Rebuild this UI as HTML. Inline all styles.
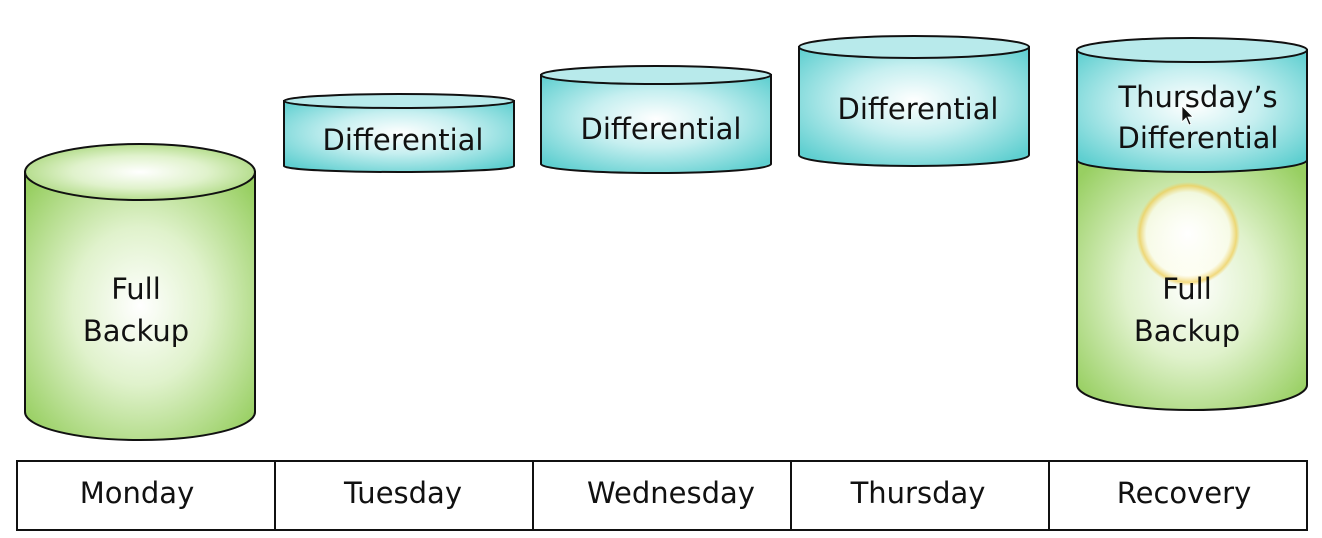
<!DOCTYPE html>
<html><head><meta charset="utf-8"><style>
html,body{margin:0;padding:0;background:#fff;}
svg{display:block;}
text{font-family:"DejaVu Sans","Liberation Sans",sans-serif;font-size:29px;fill:#111;}
</style></head><body>
<svg width="1322" height="538" viewBox="0 0 1322 538" xmlns="http://www.w3.org/2000/svg">
<defs>
<radialGradient id="tg" cx="0.5" cy="0.45" r="0.65">
<stop offset="0" stop-color="#ffffff"/><stop offset="0.45" stop-color="#c6eff0"/><stop offset="1" stop-color="#5fcfd0"/>
</radialGradient>
<radialGradient id="gg" cx="0.5" cy="0.5" r="0.65">
<stop offset="0" stop-color="#ffffff"/><stop offset="0.45" stop-color="#e0f2cc"/><stop offset="1" stop-color="#98cf62"/>
</radialGradient>
<radialGradient id="glow" cx="0.5" cy="0.5" r="0.5">
<stop offset="0" stop-color="#ffffff" stop-opacity="1"/><stop offset="0.8" stop-color="#fffef0" stop-opacity="0.7"/><stop offset="0.93" stop-color="#f0d060" stop-opacity="0.8"/><stop offset="1" stop-color="#f0d060" stop-opacity="0"/>
</radialGradient>
</defs>
<g stroke="#111" stroke-width="2">
<path d="M25,172 L25,412 A115,28 0 0 0 255,412 L255,172 Z" fill="url(#gg)"/>
<ellipse cx="140" cy="172" rx="115" ry="28" fill="url(#gg)"/>
<path d="M284,101 L284,166 A115,6 0 0 0 514,166 L514,101 Z" fill="url(#tg)"/>
<ellipse cx="399" cy="101" rx="115" ry="7" fill="#b8eaeb"/>
<path d="M541,75 L541,164 A115,9 0 0 0 771,164 L771,75 Z" fill="url(#tg)"/>
<ellipse cx="656" cy="75" rx="115" ry="9" fill="#b8eaeb"/>
<path d="M799,47 L799,155 A115,11 0 0 0 1029,155 L1029,47 Z" fill="url(#tg)"/>
<ellipse cx="914" cy="47" rx="115" ry="11" fill="#b8eaeb"/>
<path d="M1077,160 L1077,385 A115,25 0 0 0 1307,385 L1307,160 Z" fill="url(#gg)"/>
<path d="M1077,50 L1077,160 A115,12 0 0 0 1307,160 L1307,50 Z" fill="url(#tg)"/>
<ellipse cx="1192" cy="50" rx="115" ry="12" fill="#b8eaeb"/>
</g>
<circle cx="1188" cy="234" r="52" fill="url(#glow)"/>
<text x="136" y="299" text-anchor="middle">Full</text>
<text x="136" y="341" text-anchor="middle">Backup</text>
<text x="403" y="150" text-anchor="middle">Differential</text>
<text x="661" y="139" text-anchor="middle">Differential</text>
<text x="918" y="119" text-anchor="middle">Differential</text>
<text x="1198" y="107" text-anchor="middle">Thursday’s</text>
<text x="1198" y="148" text-anchor="middle">Differential</text>
<text x="1187" y="299" text-anchor="middle">Full</text>
<text x="1187" y="341" text-anchor="middle">Backup</text>
<path d="M1182,106 L1182,122 L1186,118 L1189,125 L1191,124 L1188,117 L1193,117 Z" fill="#111" stroke="#fff" stroke-width="0.8"/>
<g stroke="#111" stroke-width="2" fill="none">
<rect x="17" y="461" width="1290" height="69" fill="#fff"/>
<line x1="275" y1="461" x2="275" y2="530"/>
<line x1="533" y1="461" x2="533" y2="530"/>
<line x1="791" y1="461" x2="791" y2="530"/>
<line x1="1049" y1="461" x2="1049" y2="530"/>
</g>
<text x="137" y="503" text-anchor="middle">Monday</text>
<text x="403" y="503" text-anchor="middle">Tuesday</text>
<text x="671" y="503" text-anchor="middle">Wednesday</text>
<text x="918" y="503" text-anchor="middle">Thursday</text>
<text x="1184" y="503" text-anchor="middle">Recovery</text>
</svg>
</body></html>
